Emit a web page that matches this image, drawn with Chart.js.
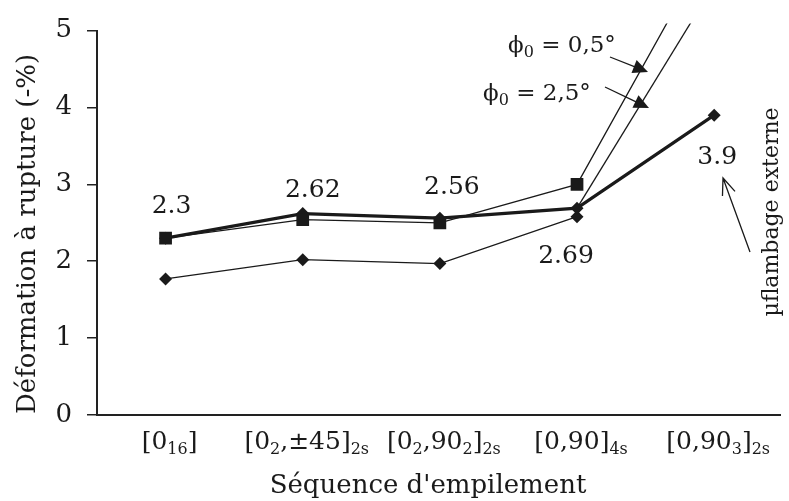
<!DOCTYPE html>
<html><head><meta charset="utf-8">
<script src="https://cdn.jsdelivr.net/npm/chart.js@4/dist/chart.umd.min.js"></script>
<style>html,body{margin:0;padding:0;background:#fff}#wrap{width:789px;height:501px}</style>
</head><body><div id="wrap"><canvas id="c" width="789" height="501"></canvas></div>
<script>
// ---- data ----
const categories = ["[0_{16}]", "[0_{2},±45]_{2s}", "[0_{2},90_{2}]_{2s}", "[0,90]_{4s}", "[0,90_{3}]_{2s}"];
const seriesMain = [2.3, 2.62, 2.56, 2.69, 3.9];      // thick line, diamonds
const seriesPhi05 = [2.3, 2.54, 2.5, 3.0, 6.2];       // ϕ0 = 0,5° (squares)
const seriesPhi25 = [null, null, null, 2.69, 5.6];    // ϕ0 = 2,5°
const seriesLow = [1.77, 2.02, 1.97, 2.58, null];     // lower diamonds
const valueLabels = ["2.3", "2.62", "2.56", "2.69", "3.9"];
const yTickValues = [0, 1, 2, 3, 4, 5];
const yTitle = "Déformation à rupture (-%)";
const xTitle = "Séquence d'empilement";
const phiLabels = ["0,5°", "2,5°"];
const bucklingLabel = "µflambage externe";

const FONT = '"DejaVu Serif", serif';
const INK = '#1a1a1a';
const toPts = arr => arr.map((v, i) => ({x: i, y: v}));

function parseRich(s) {
  const segs = [];
  const re = /_\{([^}]*)\}/g;
  let last = 0, m;
  while ((m = re.exec(s))) {
    if (m.index > last) segs.push({t: s.slice(last, m.index), sub: false});
    segs.push({t: m[1], sub: true});
    last = re.lastIndex;
  }
  if (last < s.length) segs.push({t: s.slice(last), sub: false});
  return segs;
}
function drawRich(ctx, segs, x, y, size, subSize, subDrop, align) {
  const w = segs.map(sg => { ctx.font = (sg.sub ? subSize : size) + 'px ' + FONT; return ctx.measureText(sg.t).width; });
  const total = w.reduce((a, b) => a + b, 0);
  let cx = align === 'center' ? x - total / 2 : x;
  ctx.textAlign = 'left';
  ctx.textBaseline = 'alphabetic';
  segs.forEach((sg, i) => {
    ctx.font = (sg.sub ? subSize : size) + 'px ' + FONT;
    ctx.fillText(sg.t, cx, sg.sub ? y + subDrop : y);
    cx += w[i];
  });
}
function arrowFilled(ctx, x1, y1, x2, y2, len, half) {
  const a = Math.atan2(y2 - y1, x2 - x1);
  ctx.beginPath(); ctx.moveTo(x1, y1);
  ctx.lineTo(x2 - Math.cos(a) * len * 0.8, y2 - Math.sin(a) * len * 0.8); ctx.stroke();
  ctx.beginPath(); ctx.moveTo(x2, y2);
  ctx.lineTo(x2 - Math.cos(a) * len - Math.sin(a) * half, y2 - Math.sin(a) * len + Math.cos(a) * half);
  ctx.lineTo(x2 - Math.cos(a) * len + Math.sin(a) * half, y2 - Math.sin(a) * len - Math.cos(a) * half);
  ctx.closePath(); ctx.fill();
}
function arrowOpen(ctx, x1, y1, x2, y2, len, ang) {
  const a = Math.atan2(y2 - y1, x2 - x1);
  ctx.beginPath(); ctx.moveTo(x1, y1); ctx.lineTo(x2, y2);
  ctx.moveTo(x2 - Math.cos(a - ang) * len, y2 - Math.sin(a - ang) * len);
  ctx.lineTo(x2, y2);
  ctx.lineTo(x2 - Math.cos(a + ang) * len, y2 - Math.sin(a + ang) * len);
  ctx.stroke();
}

const labelOffsets = [[6, -25], [10, -17], [12, -24], [-11, 55], [3, 49]];

const annot = {
  id: 'annot',
  afterDraw(chart) {
    const ctx = chart.ctx;
    const xs = chart.scales.x;
    ctx.save();
    ctx.fillStyle = INK; ctx.strokeStyle = INK;
    // x tick labels with subscripts
    categories.forEach((c, i) => {
      drawRich(ctx, parseRich(c), xs.getPixelForValue(i) + 4, 449, 25, 16, 5, 'center');
    });
    // axis titles
    ctx.font = '26px ' + FONT; ctx.textAlign = 'center'; ctx.textBaseline = 'alphabetic';
    ctx.fillText(xTitle, 428, 493);
    ctx.save(); ctx.translate(35, 234); ctx.rotate(-Math.PI / 2);
    ctx.fillText(yTitle, 0, 0); ctx.restore();
    // value labels
    ctx.font = '25px ' + FONT;
    const meta = chart.getDatasetMeta(1);
    valueLabels.forEach((t, i) => {
      const p = meta.data[i];
      ctx.fillText(t, p.x + labelOffsets[i][0], p.y + labelOffsets[i][1]);
    });
    // phi labels
    const phiPos = [[508, 52], [483, 100]];
    phiLabels.forEach((t, i) => {
      drawRich(ctx, [{t: 'ϕ', sub: false}, {t: '0', sub: true}, {t: ' = ' + t, sub: false}], phiPos[i][0], phiPos[i][1], 23, 16, 5, 'left');
    });
    ctx.lineWidth = 1.3;
    arrowFilled(ctx, 610, 57, 648, 72, 15, 7);
    arrowFilled(ctx, 605, 87, 649, 108, 15, 7);
    // buckling label
    ctx.font = '22px ' + FONT; ctx.textAlign = 'center';
    ctx.save(); ctx.translate(778, 212); ctx.rotate(-Math.PI / 2);
    ctx.fillText(bucklingLabel, 0, 0); ctx.restore();
    arrowOpen(ctx, 750, 252, 723, 178, 18, 0.38);
    ctx.restore();
  }
};

new Chart(document.getElementById('c'), {
  type: 'line',
  data: {
    datasets: [
      {data: toPts(seriesPhi05), borderColor: INK, backgroundColor: INK, borderWidth: 1.3,
       pointStyle: 'rect', pointRadius: 9, pointBorderWidth: 0, clip: {left: 0, top: 7, right: 0, bottom: 0}},
      {data: toPts(seriesMain), borderColor: INK, backgroundColor: INK, borderWidth: 3.2,
       pointStyle: 'rectRot', pointRadius: 6.5, pointBorderWidth: 0},
      {data: toPts(seriesPhi25), borderColor: INK, backgroundColor: INK, borderWidth: 1.3,
       pointRadius: 0, clip: {left: 0, top: 7, right: 0, bottom: 0}},
      {data: toPts(seriesLow), borderColor: INK, backgroundColor: INK, borderWidth: 1.3,
       pointStyle: 'rectRot', pointRadius: 6.5, pointBorderWidth: 0}
    ]
  },
  options: {
    responsive: false, animation: false, devicePixelRatio: 1,
    layout: {padding: {top: 24, left: 0, right: 0, bottom: 0}},
    plugins: {legend: {display: false}, tooltip: {enabled: false}},
    scales: {
      x: {type: 'linear', min: -0.5, max: 4.48,
          ticks: {display: false}, grid: {display: false},
          border: {display: true, color: '#222', width: 2},
          afterFit: s => { s.height = 86; }},
      y: {min: 0, max: 5,
          afterBuildTicks: s => { s.ticks = yTickValues.map(v => ({value: v})); },
          ticks: {padding: 15, color: INK, font: {family: FONT, size: 26}},
          grid: {drawOnChartArea: false, drawTicks: true, tickLength: 10, color: '#222', lineWidth: 1.5},
          border: {color: '#222', width: 2},
          afterFit: s => { s.width = 97; }}
    }
  },
  plugins: [annot]
});
</script></body></html>
